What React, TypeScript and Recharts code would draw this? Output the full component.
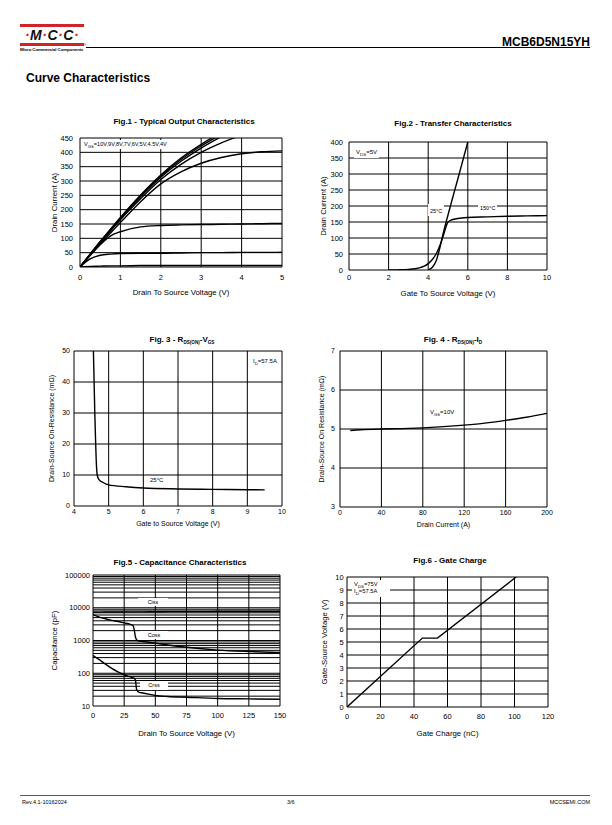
import React from 'react';
import { LineChart, Line, XAxis, YAxis, CartesianGrid, ReferenceLine } from 'recharts';

const FONT = '"Liberation Sans", Arial, Helvetica, sans-serif';
const RED = '#d2232a';

// Fig.1 - output characteristics
const FIG1_VDS = [0, 0.25, 0.5, 0.75, 1, 1.5, 2, 2.5, 3, 3.5, 4, 4.5, 5];
const FIG1_ID_10V = [0, 45, 89, 131, 173, 251, 321, 380, 428, 470, null, null, null];
const FIG1_ID_9V = [0, 44, 88, 130, 171, 248, 317, 375, 422, 463, null, null, null];
const FIG1_ID_8V = [0, 44, 87, 128, 169, 245, 313, 369, 415, 455, null, null, null];
const FIG1_ID_7V = [0, 43, 85, 125, 165, 238, 305, 358, 400, 433, 460, null, null];
const FIG1_ID_6V = [0, 41, 80, 118, 155, 228, 290, 332, 362, 382, 395, 402, 405];
const FIG1_ID_5V = [0, 40, 78, 108, 123, 140, 145, 147, 148, 149, 150, 151, 152];
const FIG1_ID_45V = [0, 28, 41, 45, 47, 48, 48, 49, 50, 50, 51, 51, 52];
const FIG1_ID_4V = [0, 2, 3, 4, 4, 5, 5, 5, 5, 5, 5, 5, 5];

// Fig.2 - transfer characteristics
const FIG2_VGS = [2, 2.5, 3, 3.5, 3.8, 4, 4.2, 4.4, 4.6, 4.8, 5, 5.2, 5.5, 6, 7, 8, 9, 10];
const FIG2_ID_150C = [0, 0.5, 2, 6, 12, 20, 32, 50, 78, 115, 150, 157, 161, 164, 166, 168, 169, 170];
const FIG2_ID_25C = [null, null, null, null, null, 0, 8, 28, 72, 125, 172, 218, 285, 400, null, null, null, null];

// Fig.3 - RDS(on) vs VGS
const FIG3_VGS = [4.56, 4.58, 4.6, 4.62, 4.64, 4.67, 4.72, 4.85, 5, 5.5, 6, 7, 8, 9, 9.5];
const FIG3_RDS = [50, 40, 30, 22, 15, 10, 8.5, 7.5, 6.8, 6.2, 5.8, 5.5, 5.35, 5.25, 5.2];

// Fig.4 - RDS(on) vs ID
const FIG4_ID = [10, 20, 40, 60, 80, 100, 120, 140, 160, 180, 200];
const FIG4_RDS = [4.96, 4.98, 5.0, 5.01, 5.03, 5.06, 5.1, 5.15, 5.22, 5.3, 5.4];

// Fig.5 - capacitance
const FIG5_VDS = [0, 5, 10, 15, 20, 25, 30, 32, 33, 34, 35, 37, 40, 50, 60, 75, 100, 125, 150];
const FIG5_CISS = [7300, 7350, 7400, 7400, 7450, 7450, 7500, 7500, 7500, 7500, 7500, 7500, 7500, 7550, 7600, 7600, 7650, 7700, 7700];
const FIG5_COSS = [6200, 5200, 4600, 4100, 3800, 3450, 3100, 2900, 2200, 1300, 1050, 960, 930, 830, 730, 620, 510, 460, 430];
const FIG5_CRSS = [350, 260, 190, 140, 110, 90, 77, 72, 70, 62, 32, 26, 25, 21, 19.5, 18.5, 17, 16.5, 16];
const FIG5_MINOR = [20, 30, 40, 50, 60, 70, 80, 90, 200, 300, 400, 500, 600, 700, 800, 900,
  2000, 3000, 4000, 5000, 6000, 7000, 8000, 9000, 20000, 30000, 40000, 50000, 60000, 70000, 80000, 90000];

// Fig.6 - gate charge
const FIG6_QG = [0, 45, 54, 101];
const FIG6_VGS = [0, 5.3, 5.3, 10];

const fig1Data = FIG1_VDS.map((v, i) => ({
  v, a: FIG1_ID_10V[i], b: FIG1_ID_9V[i], c: FIG1_ID_8V[i], d: FIG1_ID_7V[i],
  e: FIG1_ID_6V[i], f: FIG1_ID_5V[i], g: FIG1_ID_45V[i], h: FIG1_ID_4V[i],
}));
const fig2Data = FIG2_VGS.map((v, i) => ({ v, hot: FIG2_ID_150C[i], cold: FIG2_ID_25C[i] }));
const fig3Data = FIG3_VGS.map((v, i) => ({ v, r: FIG3_RDS[i] }));
const fig4Data = FIG4_ID.map((v, i) => ({ v, r: FIG4_RDS[i] }));
const fig5Data = FIG5_VDS.map((v, i) => ({ v, ciss: FIG5_CISS[i], coss: FIG5_COSS[i], crss: FIG5_CRSS[i] }));
const fig6Data = FIG6_QG.map((v, i) => ({ v, g: FIG6_VGS[i] }));

const range = (a: number, b: number, s: number) => {
  const out: number[] = [];
  for (let x = a; x <= b + 1e-9; x += s) out.push(Math.round(x * 100) / 100);
  return out;
};

type PanelProps = {
  box: [number, number, number, number];
  yw: number;
  data: any[];
  xDomain: [number, number];
  xTicks: number[];
  yDomain: [number, number];
  yTicks: number[];
  yLog?: boolean;
  xTitle: string;
  yTitle: string;
  series: string[];
  curve?: 'monotone' | 'linear';
  xGap: number;
  yGap: number;
  xTitleDy: number;
  minorY?: number[];
  tickFont?: number;
  titleFont?: number;
};

const Panel = (p: PanelProps) => {
  const [l, t, r, b] = p.box;
  const top = 6;
  const right = 12;
  const xh = 36;
  const tickFont = p.tickFont ?? 7.5;
  const titleFont = p.titleFont ?? 7.8;
  const tick = { fontSize: tickFont, fill: '#000', fontFamily: FONT };
  const titleStyle = { fontSize: titleFont, fill: '#000', fontFamily: FONT };
  return (
    <div style={{ position: 'absolute', left: l - p.yw, top: t - top }}>
      <LineChart
        width={r - l + p.yw + right}
        height={b - t + top + xh}
        data={p.data}
        margin={{ top, right, bottom: 0, left: 0 }}
      >
        <CartesianGrid stroke="#000" strokeWidth={1} />
        {p.minorY?.map((v) => (
          <ReferenceLine key={v} y={v} stroke="#000" strokeWidth={1} />
        ))}
        <XAxis
          dataKey="v"
          type="number"
          domain={p.xDomain}
          ticks={p.xTicks}
          interval={0}
          allowDataOverflow
          axisLine={false}
          tickLine={false}
          tickSize={0}
          tickMargin={p.xGap}
          height={xh}
          tick={tick}
          label={{ value: p.xTitle, position: 'insideBottom', offset: xh - p.xTitleDy - 3, style: titleStyle }}
        />
        <YAxis
          type="number"
          scale={p.yLog ? 'log' : 'auto'}
          domain={p.yDomain}
          ticks={p.yTicks}
          interval={0}
          allowDataOverflow
          axisLine={false}
          tickLine={false}
          tickSize={0}
          tickMargin={p.yGap}
          width={p.yw}
          tick={tick}
          label={{
            value: p.yTitle,
            angle: -90,
            position: 'insideLeft',
            offset: 8,
            style: { ...titleStyle, textAnchor: 'middle' },
          }}
        />
        {p.series.map((k) => (
          <Line
            key={k}
            dataKey={k}
            type={p.curve ?? 'monotone'}
            stroke="#000"
            strokeWidth={1.4}
            dot={false}
            activeDot={false}
            isAnimationActive={false}
          />
        ))}
      </LineChart>
    </div>
  );
};

const Note = ({ x, y, w, size = 5.8, bg = true, center = false, children }: any) => (
  <div
    style={{
      position: 'absolute',
      left: x,
      top: y,
      width: w,
      fontSize: size,
      lineHeight: 1.2,
      fontFamily: FONT,
      whiteSpace: 'nowrap',
      background: bg ? '#fff' : 'transparent',
      padding: '1px 2px',
      textAlign: center ? 'center' : 'left',
      boxSizing: 'border-box',
    }}
  >
    {children}
  </div>
);

const Sub = ({ children, size = 4.6 }: any) => (
  <span style={{ fontSize: size, verticalAlign: -1.5 }}>{children}</span>
);

const Title = ({ cx, y, children }: any) => (
  <div
    style={{
      position: 'absolute',
      left: cx - 110,
      top: y - 5,
      width: 220,
      textAlign: 'center',
      fontFamily: FONT,
      fontWeight: 'bold',
      fontSize: 8,
      lineHeight: '10px',
    }}
  >
    {children}
  </div>
);

const Logo = () => (
  <div style={{ position: 'absolute', left: 20, top: 24, width: 64, fontFamily: FONT }}>
    <div style={{ height: 3, background: RED }} />
    <div
      style={{
        textAlign: 'center',
        fontWeight: 'bold',
        fontStyle: 'italic',
        fontSize: 14,
        lineHeight: '16px',
        letterSpacing: 0.5,
        color: '#111',
      }}
    >
      <span style={{ color: RED }}>·</span>M<span style={{ color: RED }}>·</span>C
      <span style={{ color: RED }}>·</span>C<span style={{ color: RED }}>·</span>
    </div>
    <div style={{ height: 3, background: RED }} />
    <div style={{ fontSize: 4.4, fontWeight: 'bold', lineHeight: '7px', whiteSpace: 'nowrap', letterSpacing: -0.1 }}>
      Micro Commercial Components
    </div>
  </div>
);

const App = () => {
  return (
    <div
      style={{
        position: 'absolute',
        left: 0,
        top: 0,
        width: 612,
        height: 825,
        background: '#fff',
        overflow: 'hidden',
        fontFamily: FONT,
        color: '#000',
      }}
    >
      <Logo />
      <div style={{ position: 'absolute', left: 86, top: 47, width: 504, height: 1, background: '#000' }} />
      <div style={{ position: 'absolute', left: 84, top: 44, fontSize: 3, lineHeight: '3px' }}>®</div>
      <div style={{ position: 'absolute', right: 22, top: 35, fontSize: 12, fontWeight: 'bold', lineHeight: '14px' }}>
        MCB6D5N15YH
      </div>
      <div style={{ position: 'absolute', left: 26, top: 71, fontSize: 12, fontWeight: 'bold', lineHeight: '14px' }}>
        Curve Characteristics
      </div>

      {/* Fig.1 */}
      <Title cx={184} y={122}>Fig.1 - Typical Output Characteristics</Title>
      <Panel
        box={[80, 138, 282, 267]}
        yw={34}
        data={fig1Data}
        xDomain={[0, 5]}
        xTicks={range(0, 5, 1)}
        yDomain={[0, 450]}
        yTicks={range(0, 450, 50)}
        xTitle="Drain To Source Voltage (V)"
        yTitle="Drain Current (A)"
        series={['a', 'b', 'c', 'd', 'e', 'f', 'g', 'h']}
        xGap={7.5}
        yGap={7}
        xTitleDy={24.7}
      />
      <Note x={82} y={139.5} size={5.6}>
        V<Sub size={4.2}>GS</Sub>=10V,9V,8V,7V,6V,5V,4.5V,4V
      </Note>

      {/* Fig.2 */}
      <Title cx={453} y={124}>Fig.2 - Transfer Characteristics</Title>
      <Panel
        box={[349, 142, 547, 270]}
        yw={34}
        data={fig2Data}
        xDomain={[0, 10]}
        xTicks={range(0, 10, 2)}
        yDomain={[0, 400]}
        yTicks={range(0, 400, 50)}
        xTitle="Gate To Source Voltage (V)"
        yTitle="Drain Current (A)"
        series={['hot', 'cold']}
        xGap={5}
        yGap={6}
        xTitleDy={22.7}
      />
      <Note x={354} y={148} size={6}>
        V<Sub size={4.4}>DS</Sub>=5V
      </Note>
      <Note x={428} y={204} size={5.5}>
        <div style={{ paddingTop: 3 }}>25°C</div>
      </Note>
      <Note x={478} y={204} size={5.5}>
        150°C
      </Note>

      {/* Fig.3 */}
      <Title cx={182} y={340}>
        Fig. 3 - R<Sub>DS(ON)</Sub>-V<Sub>GS</Sub>
      </Title>
      <Panel
        box={[74, 351, 282, 506]}
        yw={30}
        data={fig3Data}
        xDomain={[4, 10]}
        xTicks={range(4, 10, 1)}
        yDomain={[0, 50]}
        yTicks={range(0, 50, 10)}
        xTitle="Gate to Source Voltage (V)"
        yTitle="Drain-Source On-Resistance (mΩ)"
        series={['r']}
        xGap={3}
        yGap={4}
        xTitleDy={17}
        tickFont={7}
        titleFont={7}
      />
      <Note x={251} y={357} size={6} bg={false}>
        I<Sub size={4.2}>D</Sub>=57.5A
      </Note>
      <Note x={148} y={476} size={6} bg={false}>
        25°C
      </Note>

      {/* Fig.4 */}
      <Title cx={453} y={340}>
        Fig. 4 - R<Sub>DS(ON)</Sub>-I<Sub>D</Sub>
      </Title>
      <Panel
        box={[340, 351, 547, 507]}
        yw={26}
        data={fig4Data}
        xDomain={[0, 200]}
        xTicks={range(0, 200, 40)}
        yDomain={[3, 7]}
        yTicks={range(3, 7, 1)}
        xTitle="Drain Current (A)"
        yTitle="Drain-Source On Resistance (mΩ)"
        series={['r']}
        xGap={3}
        yGap={5}
        xTitleDy={17}
        tickFont={7}
        titleFont={7}
      />
      <Note x={428} y={408} size={6} bg={false}>
        V<Sub size={4.2}>GS</Sub>=10V
      </Note>

      {/* Fig.5 */}
      <Title cx={180} y={563}>Fig.5 - Capacitance Characteristics</Title>
      <Panel
        box={[93, 575, 280, 706]}
        yw={47}
        data={fig5Data}
        xDomain={[0, 150]}
        xTicks={range(0, 150, 25)}
        yDomain={[10, 100000]}
        yTicks={[10, 100, 1000, 10000, 100000]}
        yLog
        minorY={FIG5_MINOR}
        xTitle="Drain To Source Voltage (V)"
        yTitle="Capacitance (pF)"
        series={['ciss', 'coss', 'crss']}
        xGap={6.5}
        yGap={3}
        xTitleDy={26.7}
      />
      <Note x={138} y={597.5} w={30} size={5.5} center>
        Ciss
      </Note>
      <Note x={140} y={630.5} w={28} size={5.5} center>
        Coss
      </Note>
      <Note x={140} y={681} w={28} size={5.5} center>
        Crss
      </Note>

      {/* Fig.6 */}
      <Title cx={450} y={561}>Fig.6 - Gate Charge</Title>
      <Panel
        box={[347, 577, 548, 707]}
        yw={31}
        data={fig6Data}
        xDomain={[0, 120]}
        xTicks={range(0, 120, 20)}
        yDomain={[0, 10]}
        yTicks={range(0, 10, 1)}
        xTitle="Gate Charge (nC)"
        yTitle="Gate-Source Voltage (V)"
        series={['g']}
        curve="linear"
        xGap={6.5}
        yGap={3.4}
        xTitleDy={26}
      />
      <Note x={352} y={579.5} w={38} size={5.8}>
        <div>
          V<Sub size={4.4}>DS</Sub>=75V
        </div>
        <div>
          I<Sub size={4.4}>D</Sub>=57.5A
        </div>
      </Note>

      {/* footer */}
      <div style={{ position: 'absolute', left: 20, top: 795, width: 570, height: 1, background: RED }} />
      <div style={{ position: 'absolute', left: 22, top: 799, fontSize: 5.5, lineHeight: '7px' }}>Rev.4.1-10162024</div>
      <div style={{ position: 'absolute', left: 287, top: 799, fontSize: 5.5, lineHeight: '7px' }}>3/6</div>
      <div style={{ position: 'absolute', right: 22, top: 799, fontSize: 5.5, lineHeight: '7px' }}>MCCSEMI.COM</div>
    </div>
  );
};

export default App;
